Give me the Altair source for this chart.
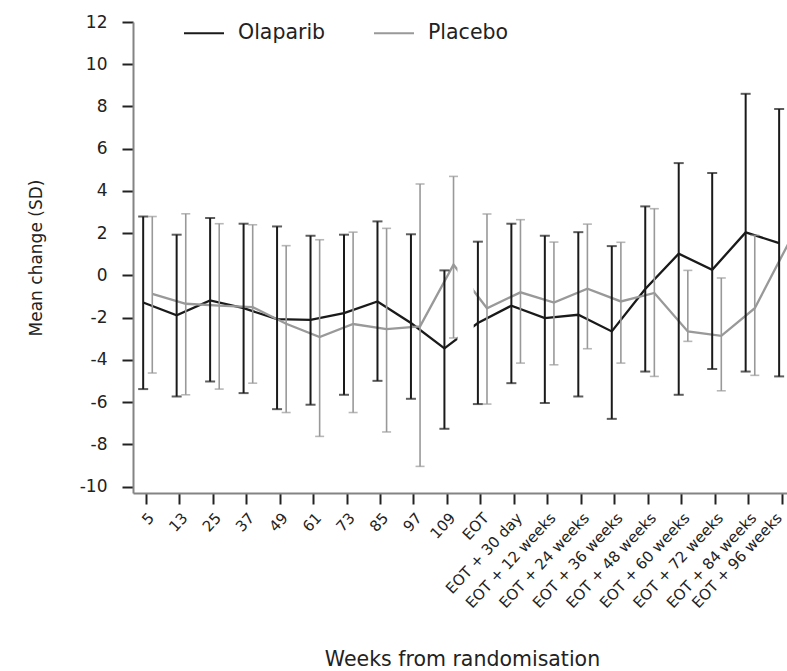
import json
import altair as alt
import pandas as pd

categories = ["5", "13", "25", "37", "49", "61", "73", "85", "97", "109", "EOT",
              "EOT + 30 day", "EOT + 12 weeks", "EOT + 24 weeks", "EOT + 36 weeks",
              "EOT + 48 weeks", "EOT + 60 weeks", "EOT + 72 weeks", "EOT + 84 weeks",
              "EOT + 96 weeks"]

olaparib_mean = [-1.28, -1.89, -1.18, -1.55, -2.07, -2.10, -1.78, -1.23, -2.25, -3.45,
                 -2.25, -1.43, -2.02, -1.86, -2.65, -0.64, 1.03, 0.27, 2.04, 1.53]
olaparib_upper = [2.79, 1.93, 2.72, 2.45, 2.32, 1.88, 1.93, 2.56, 1.95, 0.24,
                  1.60, 2.45, 1.88, 2.05, 1.39, 3.27, 5.32, 4.85, 8.60, 7.88]
olaparib_lower = [-5.38, -5.73, -5.02, -5.57, -6.33, -6.12, -5.65, -4.99, -5.84, -7.26,
                  -6.09, -5.10, -6.04, -5.73, -6.79, -4.55, -5.65, -4.43, -4.55, -4.78]

placebo_mean = [-0.87, -1.34, -1.43, -1.50, -2.29, -2.92, -2.30, -2.54, -2.41, 0.51,
                -1.55, -0.80, -1.28, -0.63, -1.23, -0.83, -2.65, -2.86, -1.55, 1.50]
placebo_upper = [2.79, 2.92, 2.45, 2.40, 1.41, 1.69, 2.05, 2.23, 4.33, 4.69,
                 2.91, 2.64, 1.58, 2.43, 1.57, 3.16, 0.24, -0.12, 1.90, None]
placebo_lower = [-4.62, -5.65, -5.38, -5.10, -6.49, -7.62, -6.49, -7.41, -9.04, -2.96,
                 -6.09, -4.15, -4.23, -3.47, -4.15, -4.78, -3.12, -5.46, -4.73, None]

groups = ["Olaparib", "Placebo"]
colors = ["#1a1a1a", "#999999"]
y_ticks = list(range(-10, 13, 2))

rows = []
for g, m, u, l in [("Olaparib", olaparib_mean, olaparib_upper, olaparib_lower),
                   ("Placebo", placebo_mean, placebo_upper, placebo_lower)]:
    for i, c in enumerate(categories):
        rows.append({"idx": i, "cat": c, "group": g, "mean": m[i],
                     "upper": u[i], "lower": l[i]})
df = pd.DataFrame(rows)

FONT = "DejaVu Sans"
TXT = "#222222"
last = len(categories) - 1

x_scale = alt.Scale(domain=[-0.379, 19.16], nice=False, zero=False)
y_scale = alt.Scale(domain=[-10.3, 12], nice=False, zero=False)

x_axis = alt.Axis(
    values=list(range(len(categories))), tickCount=len(categories),
    labelExpr=json.dumps(categories) + "[datum.value]",
    labelAngle=-47, labelAlign="right", labelBaseline="top", labelPadding=6,
    labelOffset={"condition": {"test": f"datum.value == {last}", "value": -8},
                 "value": 0},
    labelFontSize=15, labelFont=FONT, labelColor=TXT, labelOverlap=False,
    labelFlush=False, labelBound=False,
    tickSize=11, tickWidth=2, tickColor=TXT,
    domainColor="#848484", domainWidth=2, grid=False,
    title="Weeks from randomisation", titleFont=FONT, titleFontSize=20.5,
    titleFontWeight="normal", titleColor=TXT, titleX=329, titleY=172,
    titleBaseline="alphabetic", titleAlign="center",
)
y_axis = alt.Axis(
    values=y_ticks, tickCount=len(y_ticks), labelExpr="'' + datum.value",
    labelFontSize=17, labelFont=FONT, labelColor=TXT,
    labelPadding=15, tickSize=11, tickWidth=2, tickColor=TXT,
    domainColor="#848484", domainWidth=2, grid=False,
    title="Mean change (SD)", titleFont=FONT, titleFontSize=17,
    titleFontWeight="normal", titleColor=TXT, titleX=-96.5, titleY=235.5,
    titleAngle=270, titleBaseline="middle", titleAlign="center",
)

base = alt.Chart(df).transform_calculate(
    xpos="datum.idx + (datum.group === 'Olaparib' ? -0.075 : 0.197)"
)

X = alt.X("xpos:Q", scale=x_scale, axis=x_axis, title="Weeks from randomisation")

lines = base.mark_line(strokeWidth=2.3, clip=True).encode(
    x=X,
    y=alt.Y("mean:Q", scale=y_scale, axis=y_axis, title="Mean change (SD)"),
    color=alt.Color("group:N", scale=alt.Scale(domain=groups, range=colors),
                    legend=alt.Legend(
                        title=None, orient="none", legendX=50, legendY=-10,
                        direction="horizontal", symbolType="stroke",
                        symbolSize=1600, symbolStrokeWidth=2,
                        labelFont=FONT, labelFontSize=20.5, labelColor=TXT,
                        labelOffset=13, columnPadding=44, padding=0)),
    order="idx:Q",
)

gap = alt.Chart(df).mark_rect(color="white", clip=True).encode(
    x=alt.X(datum=9.33, type="quantitative"),
    x2=alt.X2(datum=9.78),
    y=alt.Y(datum=-9.8, type="quantitative"),
    y2=alt.Y2(datum=11.9),
)

bar_layers = []
for g, col, sw, cap in [("Olaparib", colors[0], 2.0, 10), ("Placebo", colors[1], 1.6, 9)]:
    b = base.transform_filter(alt.datum.group == g).transform_filter(
        "isValid(datum.upper)")
    bar_layers.append(b.mark_rule(color=col, strokeWidth=sw, clip=True).encode(
        x=X, y=alt.Y("lower:Q", scale=y_scale, axis=y_axis, title="Mean change (SD)"),
        y2="upper:Q"))
    for fld in ["upper", "lower"]:
        bar_layers.append(b.mark_tick(color=col, thickness=sw, size=cap,
                                      orient="horizontal", clip=True).encode(
            x=X, y=alt.Y(f"{fld}:Q", scale=y_scale, axis=y_axis,
                         title="Mean change (SD)")))

chart = alt.layer(lines, gap, *bar_layers).properties(
    width=654, height=471,
    autosize=alt.AutoSizeParams(type="none"),
    padding={"left": 133, "top": 22, "right": 0, "bottom": 178},
    background="white",
).configure_view(stroke=None)

chart.save("out.html", embed_options={"renderer": "svg", "actions": False})
